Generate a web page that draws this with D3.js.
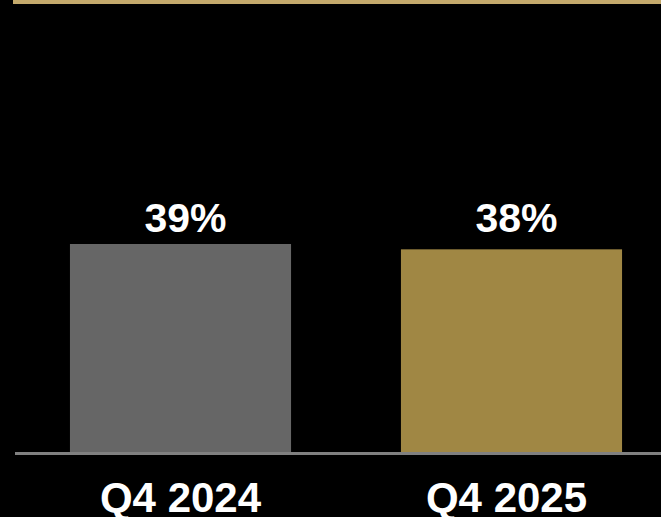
<!DOCTYPE html>
<html>
<head>
<meta charset="utf-8">
<script src="https://cdn.jsdelivr.net/npm/d3@7"></script>
<style>
  html, body { margin: 0; padding: 0; background: #000; }
  svg { display: block; }
</style>
</head>
<body>
<svg id="chart"></svg>
<script>
// data
let quarters = ['Q4 2024', 'Q4 2025'];
let values = [39, 38];
let barColors = ['#666666', '#A08744'];

let w = 661;
let h = 517;

let svg = d3.select('#chart')
  .attr('width', w)
  .attr('height', h);

svg.append('rect')
  .attr('width', w)
  .attr('height', h)
  .attr('fill', '#000');

// gold rule along the top
svg.append('rect')
  .attr('x', 13)
  .attr('y', 0)
  .attr('width', w - 13)
  .attr('height', 4)
  .attr('fill', '#C4A96B');

let xScale = d3.scaleBand()
  .domain(quarters)
  .range([15, 677])
  .paddingInner(0.332)
  .paddingOuter(0.166);

let yScale = d3.scaleLinear()
  .domain([0, 84])
  .range([452, 4]);

svg.selectAll('.bar')
  .data(quarters)
  .enter()
  .append('rect')
  .attr('class', 'bar')
  .attr('x', (d) => xScale(d))
  .attr('y', (d, i) => yScale(values[i]))
  .attr('width', xScale.bandwidth())
  .attr('height', (d, i) => yScale(0) - yScale(values[i]))
  .attr('fill', (d, i) => barColors[i]);

// value labels all sit on one line above the tallest bar
let labelY = yScale(d3.max(values)) - 12;
svg.selectAll('.val')
  .data(quarters)
  .enter()
  .append('text')
  .attr('class', 'val')
  .attr('x', (d) => xScale(d) + xScale.bandwidth() / 2 + 5)
  .attr('y', labelY)
  .attr('text-anchor', 'middle')
  .attr('fill', '#fff')
  .style('font-family', 'Liberation Sans, Arial, sans-serif')
  .style('font-weight', 'bold')
  .style('font-size', '41px')
  .text((d, i) => values[i] + '%');

// baseline + category axis
let xAxis = d3.axisBottom(xScale).tickSize(0).tickPadding(0);
let xAxisGroup = svg.append('g')
  .attr('transform', `translate(0, ${yScale(0)})`)
  .call(xAxis);

xAxisGroup.select('.domain').remove();
xAxisGroup.append('line')
  .attr('x1', 15)
  .attr('x2', w)
  .attr('y1', 1.5)
  .attr('y2', 1.5)
  .attr('stroke', '#808080')
  .attr('stroke-width', 3);

xAxisGroup.selectAll('.tick text')
  .attr('x', (d, i) => i * -5)
  .attr('y', 60)
  .attr('dy', 0)
  .attr('fill', '#fff')
  .style('font-family', 'Liberation Sans, Arial, sans-serif')
  .style('font-weight', 'bold')
  .style('font-size', '42px');
</script>
</body>
</html>
